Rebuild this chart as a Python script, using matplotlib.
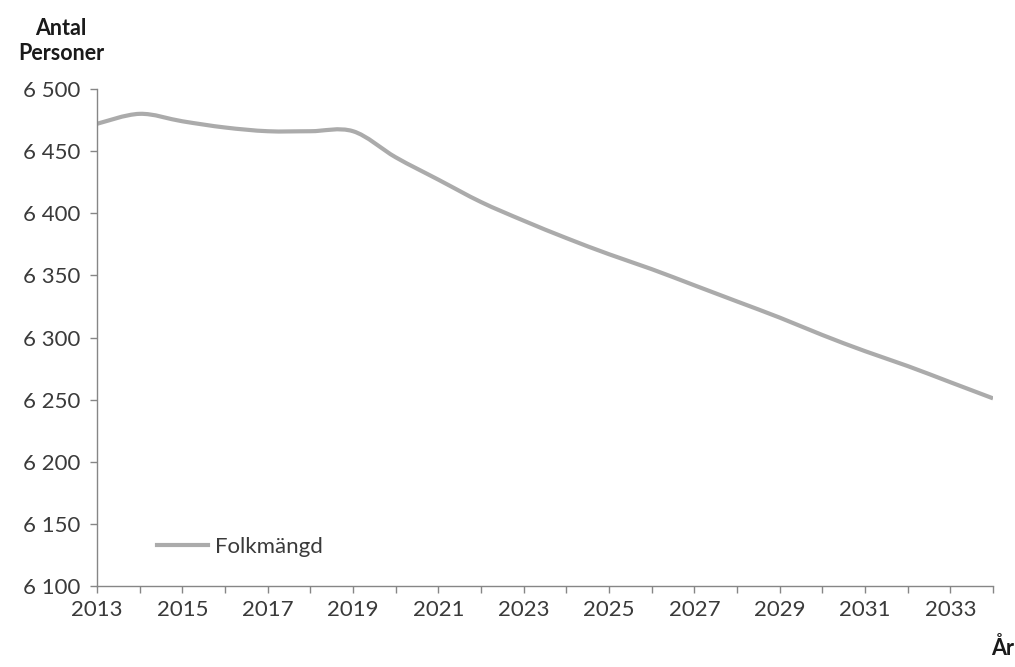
import numpy as np
import matplotlib
matplotlib.use('Agg')
import matplotlib.pyplot as plt
from matplotlib.path import Path
from matplotlib.patches import PathPatch
from matplotlib.ticker import FuncFormatter

plt.rcParams['font.family'] = ['Lato', 'DejaVu Sans']

# Data
years = list(range(2013, 2035))
folkmangd = [6472, 6480, 6474, 6469, 6466, 6466, 6466, 6445, 6427, 6409,
             6394, 6380, 6367, 6355, 6342, 6329, 6316, 6302, 6289, 6277,
             6264, 6251]
label_years = list(range(2013, 2035, 2))
y_ticks = list(range(6100, 6501, 50))

fig = plt.figure(figsize=(10.15, 6.67), dpi=100)
ax = fig.add_axes([0.0956, 0.1214, 0.8828, 0.7452])

# Smoothed line (Catmull-Rom style bezier through the points, like Excel)
x = np.array(years, dtype=float)
y = np.array(folkmangd, dtype=float)
verts = [(x[0], y[0])]
codes = [Path.MOVETO]
n = len(x)
for i in range(n - 1):
    x0, y0 = (x[i - 1], y[i - 1]) if i > 0 else (x[i], y[i])
    x3, y3 = (x[i + 2], y[i + 2]) if i + 2 < n else (x[i + 1], y[i + 1])
    c1 = (x[i] + (x[i + 1] - x0) / 6, y[i] + (y[i + 1] - y0) / 6)
    c2 = (x[i + 1] - (x3 - x[i]) / 6, y[i + 1] - (y3 - y[i]) / 6)
    verts += [c1, c2, (x[i + 1], y[i + 1])]
    codes += [Path.CURVE4] * 3
line_color = '#ababab'
ax.add_patch(PathPatch(Path(verts, codes), facecolor='none',
                       edgecolor=line_color, lw=3, capstyle='butt'))

ax.set_xlim(2013, 2034)
ax.set_ylim(6100, 6500)
ax.set_xticks(years)
ax.set_xticklabels([str(yr) if yr in label_years else '' for yr in years])
ax.set_yticks(y_ticks)
ax.yaxis.set_major_formatter(FuncFormatter(lambda v, p: f'{int(v):,}'.replace(',', ' ')))

for side in ['top', 'right']:
    ax.spines[side].set_visible(False)
for side in ['left', 'bottom']:
    ax.spines[side].set_color('#868686')
    ax.spines[side].set_linewidth(1)
ax.tick_params(axis='both', colors='#868686', labelcolor='#3a3a3a',
               labelsize=16, length=5, width=1, direction='out')
ax.tick_params(axis='y', pad=7)
ax.tick_params(axis='x', pad=5)

# Legend
ax.plot([], [], color=line_color, lw=3, label='Folkmängd')
leg = ax.legend(loc='lower left', bbox_to_anchor=(0.045, 0.019), frameon=False,
                fontsize=16, handlelength=2.3, handletextpad=0.3)
for t in leg.get_texts():
    t.set_color('#3a3a3a')

fig.text(0.060, 0.958, 'Antal', ha='center', va='center', fontsize=15.5,
         fontweight='bold', color='#1a1a1a')
fig.text(0.060, 0.920, 'Personer', ha='center', va='center', fontsize=15.5,
         fontweight='bold', color='#1a1a1a')
fig.text(0.988, 0.028, 'År', ha='center', va='center', fontsize=15.5,
         fontweight='bold', color='#1a1a1a')

fig.savefig('out.png', dpi=100, facecolor='white')
